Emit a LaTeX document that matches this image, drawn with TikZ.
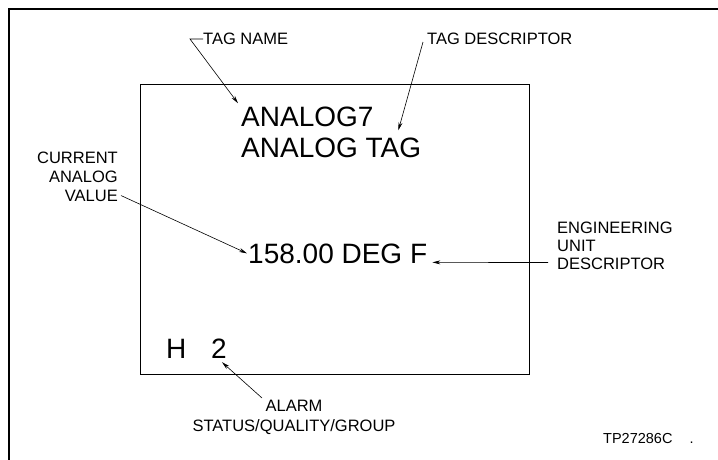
\documentclass[tikz,border=0pt]{standalone}
\usepackage{fontspec}
\setmainfont{Liberation Sans}
\usetikzlibrary{arrows.meta}

\begin{document}
\begin{tikzpicture}[
    x=1pt, y=-1pt,
    big/.style={inner sep=0pt, font=\fontsize{28}{31}\selectfont},
    lbl/.style={inner sep=0pt, font=\fontsize{16.5}{18}\selectfont},
    lead/.style={-{Stealth[length=8pt, width=4pt]}, line width=0.6pt},
]
\useasboundingbox (0,0) rectangle (718,460);
% sheet edge
\draw[line width=1.4pt] (9,460) -- (9,9) -- (718,9);

% display face
\node[draw, line width=1.2pt, inner sep=0pt, minimum width=389pt, minimum height=290pt, anchor=north west] (screen) at (140,84) {};
\node[big, anchor=base west] (tag) at (241,126) {ANALOG7};
\node[big, anchor=base west] (desc) at (241,157) {ANALOG TAG};
\node[big, anchor=base west] (value) at (248,263) {158.00 DEG F};
\node[big, anchor=base west] (status) at (166,358) {H};
\node[big, anchor=base west] (group) at (211,358) {2};

% callouts
\node[lbl, anchor=west] (lbltag) at (203,39) {TAG NAME};
\node[lbl, anchor=west] (lbldesc) at (427,39) {TAG DESCRIPTOR};
\node[lbl, anchor=east, align=right, font=\fontsize{16.5}{19}\selectfont] (lblvalue) at (118,176.5) {CURRENT\\ANALOG\\VALUE};
\node[lbl, anchor=west, align=left] (lbleng) at (557,245.5) {ENGINEERING\\UNIT\\DESCRIPTOR};
\node[lbl, anchor=north, align=center, font=\fontsize{16.5}{20}\selectfont] (lblalarm) at (294,400) {ALARM\\STATUS/QUALITY/GROUP};
\node[lbl, anchor=base west, font=\fontsize{14.5}{16}\selectfont] (figno) at (603,443) {TP27286C\hspace{17pt}.};

\coordinate (hooktag) at (190,39);
\draw[lead] (lbltag.west) -- (hooktag) -- ([shift={(-3,-3)}]tag.north west);
\draw[lead] ([shift={(-4,-3)}]lbldesc.south west) -- ([shift={(-23,-7)}]desc.north east);
\draw[lead] ([shift={(3,-6)}]lblvalue.south east) -- ([xshift=-1pt]value.west);
\draw[lead] ([shift={(-9,-7)}]lbleng.south west) -- ([shift={(5,9)}]value.east);
\draw[lead] ([shift={(-32,-2)}]lblalarm.north) -- ([shift={(3,4)}]group.south);
\end{tikzpicture}
\end{document}
